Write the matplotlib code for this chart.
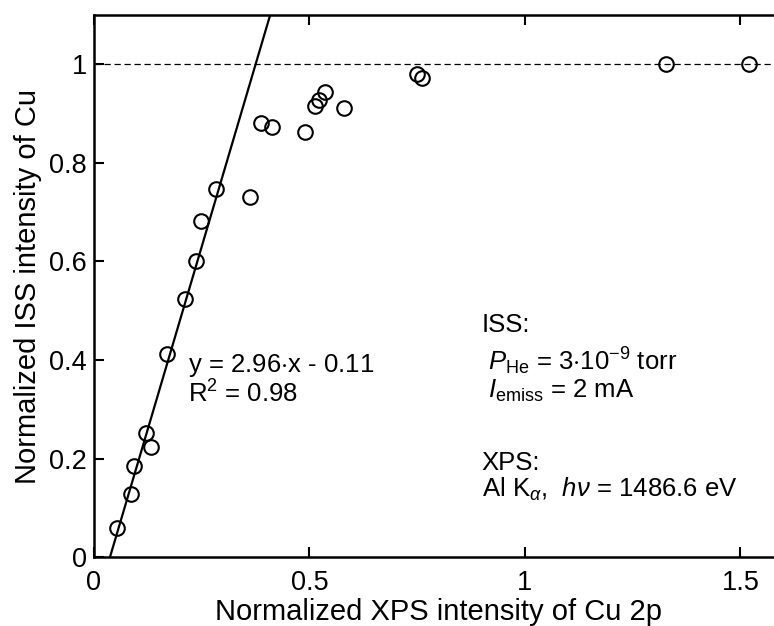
import numpy as np
import matplotlib
matplotlib.use("Agg")
from matplotlib import pyplot as plt

plt.rcParams['font.family'] = ['Liberation Sans', 'DejaVu Sans']
plt.rcParams['mathtext.fontset'] = 'custom'
plt.rcParams['mathtext.rm'] = 'Liberation Sans'
plt.rcParams['mathtext.it'] = 'Liberation Sans:italic'

# normalized XPS intensity of Cu 2p vs normalized ISS intensity of Cu
xps = [0.053, 0.085, 0.094, 0.121, 0.132, 0.170, 0.211, 0.236, 0.248, 0.282,
       0.362, 0.387, 0.412, 0.489, 0.513, 0.523, 0.536, 0.579, 0.749, 0.762,
       1.328, 1.519]
iss = [0.060, 0.129, 0.185, 0.252, 0.223, 0.412, 0.523, 0.601, 0.682, 0.748,
       0.731, 0.881, 0.873, 0.863, 0.916, 0.927, 0.944, 0.911, 0.981, 0.972,
       1.0, 1.0]

slope, intercept = 2.96, -0.11
xticks = [0, 0.5, 1, 1.5]
xtick_labels = ['0', '0.5', '1', '1.5']
yticks = [0, 0.2, 0.4, 0.6, 0.8, 1]
ytick_labels = ['0', '0.2', '0.4', '0.6', '0.8', '1']

fig = plt.figure(figsize=(7.74, 6.26), dpi=100)
ax = fig.add_axes([0.1214, 0.110, 0.891, 0.866])

ax.axhline(1, color='black', lw=0.9, ls=(0, (5, 3)), zorder=1)

xfit = np.array([-intercept / slope, 0.5])
ax.plot(xfit, slope * xfit + intercept, color='black', lw=1.6, zorder=2)

ax.plot(xps, iss, 'o', mfc='none', mec='black', ms=10.5, mew=1.5, zorder=3)

ax.set_xlim(0, 1.6)
ax.set_ylim(0, 1.1)
ax.set_xticks(xticks)
ax.set_xticklabels(xtick_labels)
ax.set_yticks(yticks)
ax.set_yticklabels(ytick_labels)
ax.tick_params(direction='in', length=7, width=1.5, labelsize=19.5,
               top=True, right=True)
ax.tick_params(axis='x', pad=9)
ax.tick_params(axis='y', pad=5)
for s in ax.spines.values():
    s.set_linewidth(1.8)

ax.set_xlabel('Normalized XPS intensity of Cu 2p', fontsize=21, labelpad=2)
ax.set_ylabel('Normalized ISS intensity of Cu', fontsize=21, labelpad=5)

fs = 18.5
ax.text(0.218, 0.375, r'y = 2.96$\cdot$x - 0.11', fontsize=fs, va='baseline')
ax.text(0.218, 0.314, r'R$^2$ = 0.98', fontsize=fs, va='baseline')

ax.text(0.900, 0.456, 'ISS:', fontsize=fs, va='baseline')
ax.text(0.914, 0.379, r'$P_{\mathrm{He}}$ = 3$\cdot$10$^{-9}$ torr', fontsize=fs, va='baseline')
ax.text(0.914, 0.3225, r'$I_{\mathrm{emiss}}$ = 2 mA', fontsize=fs, va='baseline')
ax.text(0.900, 0.176, 'XPS:', fontsize=fs, va='baseline')
ax.text(0.900, 0.122, r'Al K$_{\alpha}$,  $h\nu$ = 1486.6 eV', fontsize=fs, va='baseline')

fig.savefig('out.png', dpi=100)
